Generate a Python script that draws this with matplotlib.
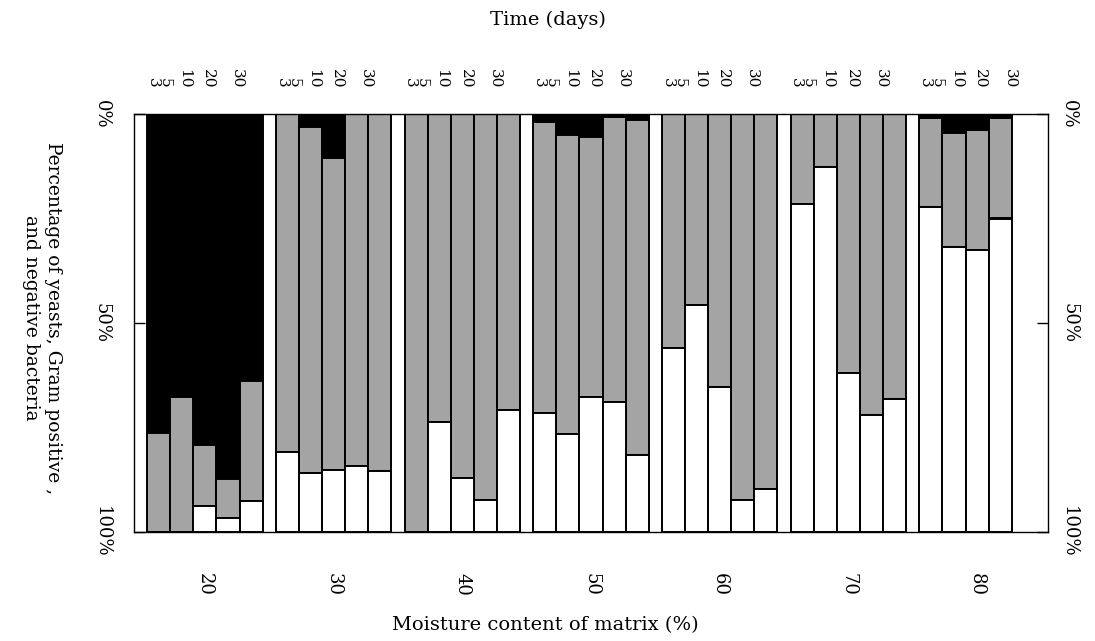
import numpy as np
import matplotlib
matplotlib.use("Agg")
import matplotlib.pyplot as plt
from matplotlib.transforms import blended_transform_factory

# moisture content groups and sampling days
groups = ["20", "30", "40", "50", "60", "70", "80"]
days = ["3", "5", "10", "20", "30"]
pct_ticks = [0, 50, 100]
pct_labels = ["0%", "50%", "100%"]

# percentages per group (rows) and day (columns); stacked from 0% (top) down
yeasts = [
    [76.2, 67.6, 79.2, 87.4, 63.8],
    [0.0, 3.0, 10.6, 0.0, 0.0],
    [0.0, 0.0, 0.0, 0.0, 0.0],
    [1.9, 5.0, 5.6, 0.6, 1.4],
    [0.0, 0.0, 0.0, 0.0, 0.0],
    [0.0, 0.0, 0.0, 0.0, 0.0],
    [1.0, 4.6, 3.8, 1.0, np.nan],
]
gram_pos = [
    [23.8, 32.4, 14.6, 9.3, 28.9],
    [80.8, 83.0, 74.6, 84.2, 85.3],
    [100.0, 73.6, 87.2, 92.3, 70.7],
    [69.7, 71.6, 62.0, 68.2, 80.2],
    [56.1, 45.7, 65.2, 92.3, 89.8],
    [21.5, 12.6, 62.0, 72.0, 68.3],
    [21.3, 27.1, 28.7, 24.0, np.nan],
]
gram_neg = [
    [0.0, 0.0, 6.2, 3.3, 7.3],
    [19.2, 14.0, 14.8, 15.8, 14.7],
    [0.0, 26.4, 12.8, 7.7, 29.3],
    [28.4, 23.4, 32.4, 31.2, 18.4],
    [43.9, 54.3, 34.8, 7.7, 10.2],
    [78.5, 87.4, 38.0, 28.0, 31.7],
    [77.7, 68.3, 67.5, 75.0, np.nan],
]

plt.rcParams["font.family"] = "DejaVu Serif"

fig = plt.figure(figsize=(10.95, 6.41), dpi=100)
ax = fig.add_axes([134 / 1095, 1 - 532 / 641, 914 / 1095, 418 / 641])

gap = 0.571
nb = len(days)
day_offsets = [0.24, 0.76, 1.6, 2.64, 3.9]   # label placement inside a group
xtr = ax.get_xaxis_transform()
for k in range(len(groups)):
    x0 = gap + k * (nb + gap)
    x = x0 + np.arange(nb)
    b = np.array(yeasts[k])
    g = np.array(gram_pos[k])
    w = np.array(gram_neg[k])
    ok = ~np.isnan(b)
    kw = dict(width=1.0, align="edge", edgecolor="black", linewidth=1.4)
    ax.bar(x[ok], b[ok], bottom=0, color="black", **kw)
    ax.bar(x[ok], g[ok], bottom=b[ok], color="#a4a4a4", **kw)
    ax.bar(x[ok], w[ok], bottom=b[ok] + g[ok], color="white", **kw)
    for d, off in zip(days, day_offsets):
        ax.text(x0 + off, 1.062, d, transform=xtr, rotation=-90,
                ha="center", va="bottom", fontsize=11)
    ax.text(x0 + nb / 2, -0.125, groups[k], transform=xtr,
            rotation=-90, ha="center", va="center", fontsize=13)

ax.set_xlim(0, len(groups) * (nb + gap) + gap)
ax.set_ylim(100, 0)
ax.set_xticks([])
ax.set_yticks(pct_ticks)
ax.set_yticklabels([])
ax.tick_params(axis="y", direction="in", length=8, width=1, left=True, right=True)
for s in ax.spines.values():
    s.set_linewidth(1.0)

# percentage labels on both sides
ytr = blended_transform_factory(fig.transFigure, ax.transData)
for v, lab in zip(pct_ticks, pct_labels):
    fig.text(102 / 1095, v, lab, transform=ytr, rotation=-90,
             ha="center", va="center", fontsize=13)
    fig.text(1069 / 1095, v, lab, transform=ytr, rotation=-90,
             ha="center", va="center", fontsize=13)

fig.text(548 / 1095, 1 - 20 / 641, "Time (days)", ha="center", va="center",
         fontsize=14)
fig.text(545 / 1095, 1 - 625 / 641, "Moisture content of matrix (%)",
         ha="center", va="center", fontsize=14)
fig.text(42 / 1095, 1 - 318 / 641,
         "Percentage of yeasts, Gram positive ,\nand negative bacteria",
         rotation=-90, ha="center", va="center", fontsize=13.5,
         multialignment="center", linespacing=1.3)

fig.savefig("out.png", dpi=100)
